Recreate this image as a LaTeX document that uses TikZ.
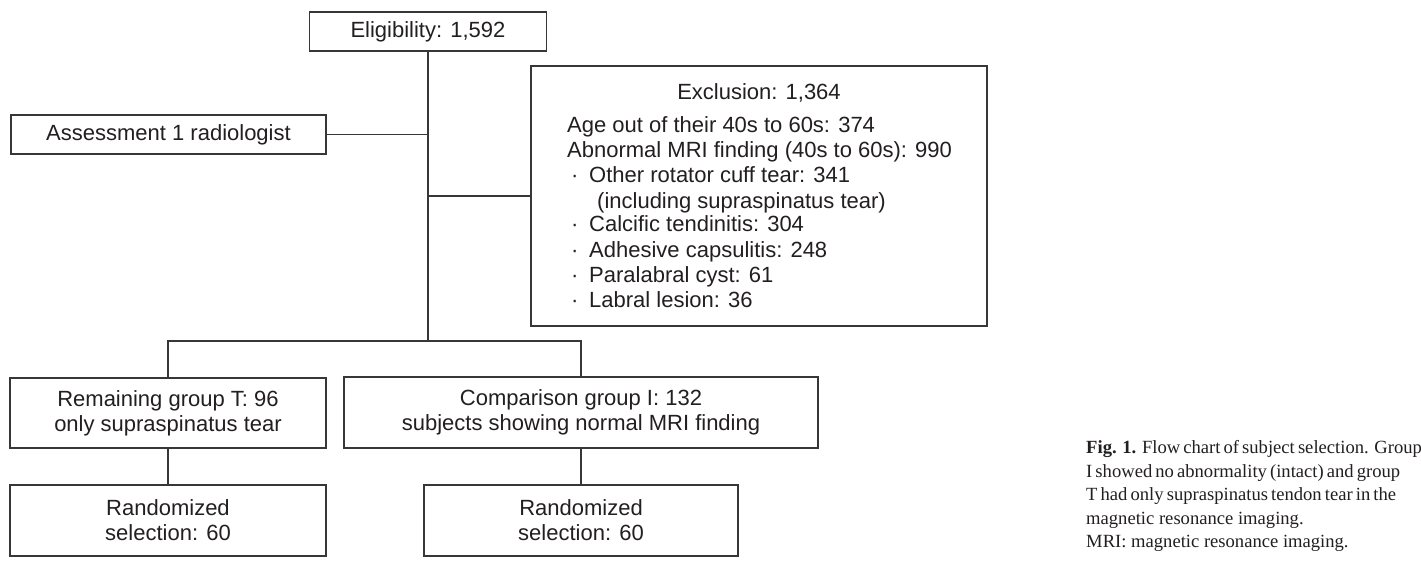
\documentclass[tikz,border=0pt]{standalone}
\usepackage{fontspec}
\setmainfont{Liberation Sans}
\newfontfamily\capfont{Liberation Serif}
\definecolor{ink}{RGB}{35,31,32}
\definecolor{linec}{RGB}{55,55,55}
\begin{document}
\begin{tikzpicture}[x=1pt,y=-1pt,
  box/.style={draw=linec, line width=1.4pt, text=ink, font=\fontsize{22}{25}\selectfont, align=center, inner sep=0pt},
  conn/.style={draw=linec, line width=1.4pt},
  exl/.style={anchor=base west, inner sep=0pt, text=ink, font=\fontsize{22}{25}\selectfont},
  exh/.style={anchor=base, inner sep=0pt, text=ink, font=\fontsize{22}{25}\selectfont},
  captxt/.style={anchor=base west, inner sep=0pt, text=ink, font=\capfont\fontsize{18.6}{23.5}\selectfont}]
\useasboundingbox[fill=white] (0,0) rectangle (1421,564);

% boxes
\node[box, minimum width=237pt, minimum height=39pt] (elig) at (428,31.5) {Eligibility: 1,592};
\node[box, minimum width=315pt, minimum height=39pt] (assess) at (168.5,134.5) {Assessment 1 radiologist};
\node[box, minimum width=456pt, minimum height=260pt] (excl) at (759,196) {};
\node[box, minimum width=316pt, minimum height=70pt] (grpT) at (168,413) {Remaining group T: 96\\only supraspinatus tear};
\node[box, minimum width=474pt, minimum height=71pt] (grpI) at (581,412.5) {Comparison group I: 132\\subjects showing normal MRI finding};
\node[box, minimum width=316pt, minimum height=71pt] (randT) at (168,520.5) {Randomized\\selection: 60};
\node[box, minimum width=314pt, minimum height=71pt] (randI) at (581,520.5) {Randomized\\selection: 60};

% exclusion text
\node[exh] (exhead) at (759,100) {Exclusion: 1,364};
\node[exl] (ex1) at (567,133) {Age out of their 40s to 60s: 374};
\node[exl] (ex2) at (567,158) {Abnormal MRI finding (40s to 60s): 990};
\node[exl] (ex3) at (571,183) {\makebox[18pt][l]{·}Other rotator cuff tear: 341};
\node[exl] (ex4) at (597,208) {(including supraspinatus tear)};
\node[exl] (ex5) at (571,232) {\makebox[18pt][l]{·}Calcific tendinitis: 304};
\node[exl] (ex6) at (571,257) {\makebox[18pt][l]{·}Adhesive capsulitis: 248};
\node[exl] (ex7) at (571,282) {\makebox[18pt][l]{·}Paralabral cyst: 61};
\node[exl] (ex8) at (571,307) {\makebox[18pt][l]{·}Labral lesion: 36};

% connectors
\coordinate (br) at (428,341);
\draw[conn] (elig.south) -- (br);
\draw[conn] (assess.east) -- (assess.east -| elig.south);
\draw[conn] (excl.west) -- (excl.west -| elig.south);
\draw[conn] (grpT.north) -- (grpT.north |- br) -- (grpI.north |- br) -- (grpI.north);
\draw[conn] (grpT.south) -- (randT.north);
\draw[conn] (grpI.south) -- (randI.north);

% caption
\node[captxt] (c1) at (1086,453) {\makebox[306pt][s]{\textbf{Fig. 1.} Flow chart of subject selection. Group}};
\node[captxt] (c2) at (1086,477) {\makebox[306pt][s]{I showed no abnormality (intact) and group}};
\node[captxt] (c3) at (1086,500) {\makebox[306pt][s]{T had only supraspinatus tendon tear in the}};
\node[captxt] (c4) at (1086,524) {magnetic resonance imaging.};
\node[captxt] (c5) at (1086,547) {MRI: magnetic resonance imaging.};
\end{tikzpicture}
\end{document}
